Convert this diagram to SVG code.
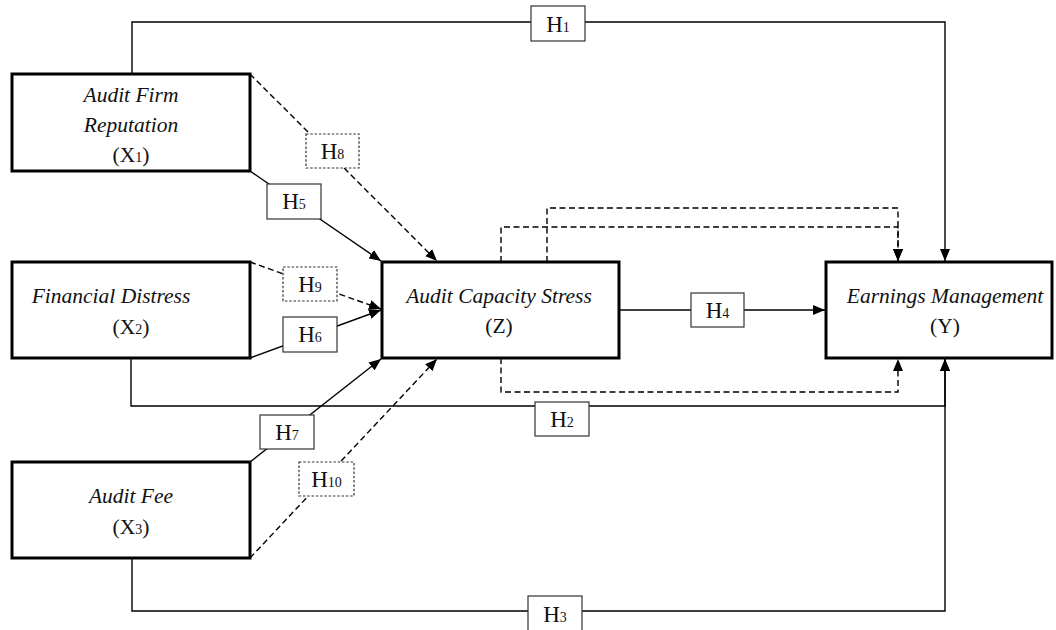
<svg xmlns="http://www.w3.org/2000/svg" width="1056" height="630" viewBox="0 0 1056 630">
  <defs>
    <marker id="arrow" viewBox="0 0 12 10" refX="12" refY="5" markerWidth="12" markerHeight="10" markerUnits="userSpaceOnUse" orient="auto">
      <path d="M0,0 L12,5 L0,10 z" fill="#000"/>
    </marker>
    <style>
      .node rect { fill: #fff; stroke: #000; stroke-width: 3; }
      .node text { font-family: "Liberation Serif", "Times New Roman", serif; font-size: 21.5px; fill: #111; text-anchor: middle; }
      .node .it { font-style: italic; }
      .sub { font-size: 14px; }
      .wire { fill: none; stroke: #000; stroke-width: 1.4; }
      .dash { stroke-dasharray: 6 3.5; }
      .tag rect { fill: #fff; stroke: #333; stroke-width: 1.2; }
      .tag.dot rect { stroke-dasharray: 2.5 1.8; }
      .tag text { font-family: "Liberation Serif", "Times New Roman", serif; font-size: 23px; fill: #111; text-anchor: middle; }
    </style>
  </defs>

  <!-- connectors -->
  <g id="connectors">
    <path class="wire" d="M132,74 V22 H945 V261" marker-end="url(#arrow)"/>
    <path class="wire" d="M131,358 V406 H945 V359" marker-end="url(#arrow)"/>
    <path class="wire" d="M132,558 V611 H945 V359" marker-end="url(#arrow)"/>
    <path class="wire" d="M619,310 H825" marker-end="url(#arrow)"/>
    <path class="wire" d="M250,171 L381,261" marker-end="url(#arrow)"/>
    <path class="wire" d="M250,358 L381,310" marker-end="url(#arrow)"/>
    <path class="wire" d="M250,462 L381,359" marker-end="url(#arrow)"/>
    <path class="wire dash" d="M250,74 L437,261" marker-end="url(#arrow)"/>
    <path class="wire dash" d="M250,262 L381,309" marker-end="url(#arrow)"/>
    <path class="wire dash" d="M250,558 L437,359" marker-end="url(#arrow)"/>
    <path class="wire dash" d="M547,262 V208 H898 V261" marker-end="url(#arrow)"/>
    <path class="wire dash" d="M501,262 V227 H898 V261" marker-end="url(#arrow)"/>
    <path class="wire dash" d="M501,358 V392 H898 V359" marker-end="url(#arrow)"/>
  </g>

  <!-- hypothesis labels -->
  <g id="h1" class="tag"><rect x="531" y="6" width="54" height="35"/><text x="558" y="32">H<tspan class="sub">1</tspan></text></g>
  <g id="h2" class="tag"><rect x="535" y="402" width="54" height="34"/><text x="562" y="427">H<tspan class="sub">2</tspan></text></g>
  <g id="h3" class="tag"><rect x="528" y="596" width="54" height="36"/><text x="555" y="622">H<tspan class="sub">3</tspan></text></g>
  <g id="h4" class="tag"><rect x="691" y="293" width="53" height="34"/><text x="717.5" y="318">H<tspan class="sub">4</tspan></text></g>
  <g id="h5" class="tag"><rect x="267" y="184" width="54" height="35"/><text x="294" y="209">H<tspan class="sub">5</tspan></text></g>
  <g id="h6" class="tag"><rect x="283" y="317" width="54" height="35"/><text x="310" y="342">H<tspan class="sub">6</tspan></text></g>
  <g id="h7" class="tag"><rect x="260" y="415" width="54" height="34"/><text x="287" y="440">H<tspan class="sub">7</tspan></text></g>
  <g id="h8" class="tag dot"><rect x="306" y="134" width="53" height="34"/><text x="332.5" y="159">H<tspan class="sub">8</tspan></text></g>
  <g id="h9" class="tag dot"><rect x="283" y="267" width="54" height="34"/><text x="310" y="292">H<tspan class="sub">9</tspan></text></g>
  <g id="h10" class="tag dot"><rect x="299" y="462" width="55" height="34"/><text x="326.5" y="487">H<tspan class="sub">10</tspan></text></g>

  <!-- variables -->
  <g id="x1" class="node">
    <rect x="12" y="74" width="238" height="97"/>
    <text class="it" x="131" y="102">Audit Firm</text>
    <text class="it" x="131" y="132">Reputation</text>
    <text x="131" y="162">(X<tspan class="sub">1</tspan>)</text>
  </g>
  <g id="x2" class="node">
    <rect x="12" y="262" width="238" height="96"/>
    <text class="it" x="111" y="303">Financial Distress</text>
    <text x="131" y="334">(X<tspan class="sub">2</tspan>)</text>
  </g>
  <g id="x3" class="node">
    <rect x="12" y="462" width="238" height="96"/>
    <text class="it" x="131" y="503">Audit Fee</text>
    <text x="131" y="534">(X<tspan class="sub">3</tspan>)</text>
  </g>
  <g id="z" class="node">
    <rect x="382" y="262" width="237" height="96"/>
    <text class="it" x="499" y="303">Audit Capacity Stress</text>
    <text x="499" y="333">(Z)</text>
  </g>
  <g id="y" class="node">
    <rect x="826" y="262" width="226" height="96"/>
    <text class="it" x="945" y="303">Earnings Management</text>
    <text x="945" y="333">(Y)</text>
  </g>
</svg>
